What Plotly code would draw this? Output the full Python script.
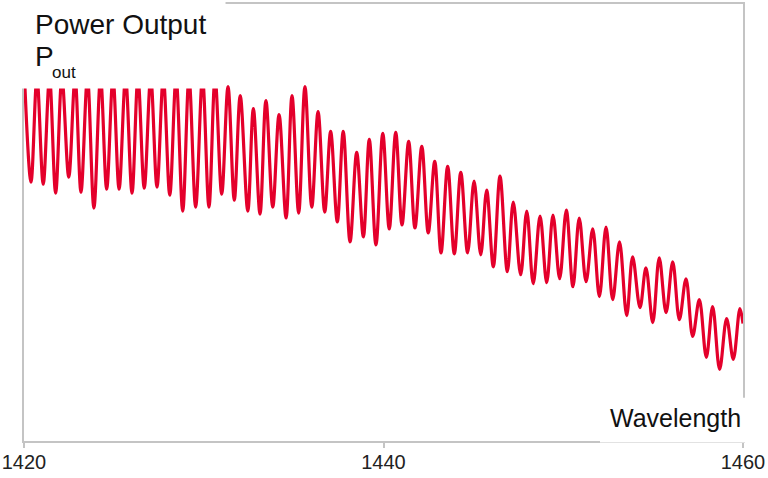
import plotly.graph_objects as go

# Wavelength (nm) of each successive extremum (peak / trough) of the output trace
wavelength = [
    1420.03, 1420.39, 1420.72, 1421.07, 1421.42, 1421.76, 1422.11, 1422.49, 1422.84, 1423.17,
    1423.53, 1423.89, 1424.26, 1424.60, 1424.95, 1425.29, 1425.65, 1426.01, 1426.34, 1426.69,
    1427.05, 1427.40, 1427.75, 1428.11, 1428.46, 1428.83, 1429.18, 1429.55, 1429.93, 1430.29,
    1430.63, 1431.00, 1431.35, 1431.70, 1432.03, 1432.45, 1432.76, 1433.13, 1433.46, 1433.84,
    1434.19, 1434.58, 1434.91, 1435.28, 1435.63, 1436.01, 1436.36, 1436.73, 1437.06, 1437.43,
    1437.76, 1438.14, 1438.51, 1438.88, 1439.21, 1439.58, 1439.96, 1440.32, 1440.68, 1441.03,
    1441.40, 1441.75, 1442.13, 1442.49, 1442.85, 1443.20, 1443.57, 1443.94, 1444.30, 1444.68,
    1445.04, 1445.41, 1445.74, 1446.11, 1446.48, 1446.89, 1447.22, 1447.63, 1447.97, 1448.33,
    1448.71, 1449.08, 1449.43, 1449.80, 1450.17, 1450.54, 1450.89, 1451.27, 1451.64, 1452.01,
    1452.38, 1452.75, 1453.13, 1453.53, 1453.86, 1454.27, 1454.60, 1454.98, 1455.34, 1455.72,
    1456.09, 1456.46, 1456.83, 1457.20, 1457.57, 1457.96, 1458.31, 1458.70, 1459.09, 1459.46,
    1459.83, 1460.00,
]

# Output power (arbitrary units) at each extremum
power_out = [
    365, 260, 365, 258, 365, 249, 365, 265, 365, 250,
    365, 234, 365, 253, 365, 253, 365, 249, 365, 254,
    365, 255, 365, 247, 365, 231, 365, 235, 365, 235,
    365, 248, 356, 242, 347, 231, 334, 228, 342, 235,
    328, 224, 347, 229, 356, 235, 331, 230, 311, 220,
    311, 200, 290, 205, 303, 197, 309, 213, 310, 217,
    301, 214, 296, 209, 281, 189, 276, 188, 270, 189,
    261, 187, 252, 175, 266, 170, 240, 167, 231, 158,
    226, 159, 227, 163, 232, 155, 224, 160, 213, 145,
    215, 142, 200, 126, 185, 134, 174, 119, 184, 129,
    180, 122, 163, 105, 142, 84, 135, 72, 123, 82,
    133, 118,
]

x_ticks = [1420, 1440, 1460]
y_label = "Power Output"
y_symbol = "P"
y_subscript = "out"
x_label = "Wavelength"

FONT = "Liberation Sans, Arial, sans-serif"
AXIS = "#c4c4c4"

fig = go.Figure()
fig.add_trace(go.Scatter(
    x=wavelength, y=power_out, mode="lines",
    line=dict(color="#e4002b", width=3.2, shape="spline", smoothing=1.0),
    hoverinfo="skip", showlegend=False,
))

fig.update_layout(
    width=768, height=478,
    margin=dict(l=24, r=25, t=2, b=37),
    paper_bgcolor="white", plot_bgcolor="white",
    font=dict(family=FONT, color="#1a1a1a"),
    xaxis=dict(
        range=[1420, 1460], tickvals=x_ticks, ticktext=[str(t) for t in x_ticks],
        showgrid=False, zeroline=False, showline=True, linecolor=AXIS, linewidth=1.5,
        mirror=True, ticks="outside", ticklen=5, tickcolor=AXIS, tickwidth=1.5,
        ticklabelstandoff=-3,
        tickfont=dict(size=20, color="#222222", family=FONT),
    ),
    yaxis=dict(
        range=[0, 439], showgrid=False, zeroline=False, showline=True,
        linecolor=AXIS, linewidth=1.5, mirror=True, showticklabels=False, ticks="",
    ),
    shapes=[
        dict(type="rect", xref="paper", yref="paper", x0=-0.05, x1=0.2803,
             y0=0.8064, y1=1.05, fillcolor="white", line=dict(width=0), layer="above"),
        dict(type="rect", xref="paper", yref="paper", x0=0.8011, x1=1.05,
             y0=-0.0034, y1=0.0991, fillcolor="white", line=dict(width=0), layer="above"),
    ],
    annotations=[
        dict(text=y_label, xref="paper", yref="paper", x=0.0125, y=0.954,
             xanchor="left", yanchor="middle", showarrow=False,
             font=dict(size=28, family=FONT, color="#111111")),
        dict(text=y_symbol, xref="paper", yref="paper", x=0.0125, y=0.881,
             xanchor="left", yanchor="middle", showarrow=False,
             font=dict(size=28, family=FONT, color="#111111")),
        dict(text=y_subscript, xref="paper", yref="paper", x=0.0365, y=0.8425,
             xanchor="left", yanchor="middle", showarrow=False,
             font=dict(size=17, family=FONT, color="#111111")),
        dict(text=x_label, xref="paper", yref="paper", x=1.0, y=0.053,
             xanchor="right", yanchor="middle", showarrow=False,
             font=dict(size=25, family=FONT, color="#111111")),
    ],
)

fig.write_html("out.html", config={"displayModeBar": False},
               post_script="document.body.style.margin='0px';document.body.style.overflow='hidden';")
